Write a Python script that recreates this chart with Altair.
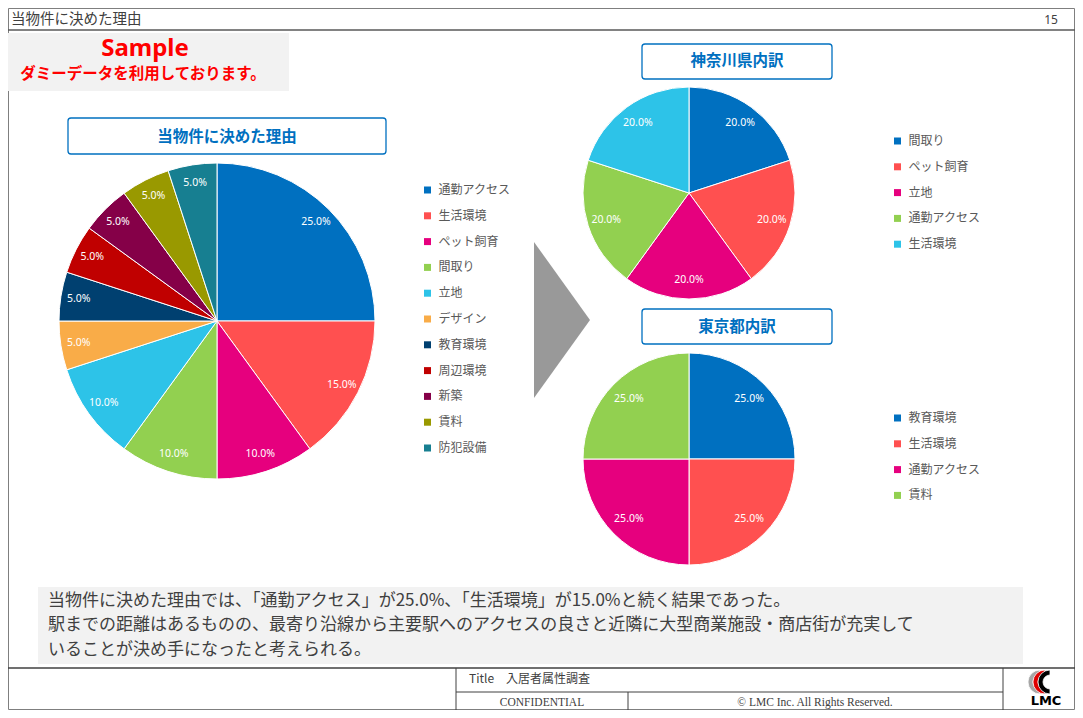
import altair as alt
import pandas as pd

# ---------------- data ----------------
main_cats = ["通勤アクセス", "生活環境", "ペット飼育", "間取り", "立地", "デザイン",
             "教育環境", "周辺環境", "新築", "賃料", "防犯設備"]
main_vals = [25, 15, 10, 10, 10, 5, 5, 5, 5, 5, 5]

kana_cats = ["間取り", "ペット飼育", "立地", "通勤アクセス", "生活環境"]
kana_vals = [20, 20, 20, 20, 20]

tokyo_cats = ["教育環境", "生活環境", "通勤アクセス", "賃料"]
tokyo_vals = [25, 25, 25, 25]

palette = ["#0070C0", "#FF5050", "#E6007E", "#92D050", "#2DC3E8", "#F9AC48",
           "#004070", "#C00000", "#850048", "#999900", "#177F91"]

header_title = "当物件に決めた理由"
page_no = "15"
sample_title = "Sample"
sample_note = "ダミーデータを利用しております。"
pie_titles = ["当物件に決めた理由", "神奈川県内訳", "東京都内訳"]
summary_lines = [
    "当物件に決めた理由では、「通勤アクセス」が25.0%、「生活環境」が15.0%と続く結果であった。",
    "駅までの距離はあるものの、最寄り沿線から主要駅へのアクセスの良さと近隣に大型商業施設・商店街が充実して",
    "いることが決め手になったと考えられる。",
]
footer_title = "Title　入居者属性調査"
footer_conf = "CONFIDENTIAL"
footer_copy = "© LMC Inc.  All Rights Reserved."

# ---------------- layout helpers ----------------
OFF = 8
W, H = 1067, 702
JP = "Noto Sans CJK JP"


def X(p):
    return p - OFF


def Y(p):
    return p - OFF


one = alt.Data(values=[{"k": 1}])


def box(x1, y1, x2, y2, fill="#FFFFFF", stroke=None, sw=1, cr=0, fo=1):
    kw = dict(fill=fill, cornerRadius=cr, fillOpacity=fo)
    if stroke:
        kw.update(stroke=stroke, strokeWidth=sw)
    else:
        kw.update(strokeWidth=0)
    return alt.Chart(one).mark_rect(**kw).encode(
        x=alt.value(X(x1)), x2=alt.value(X(x2)),
        y=alt.value(Y(y1)), y2=alt.value(Y(y2)))


def rule(x1, y1, x2, y2, color="#595959", sw=1):
    return alt.Chart(one).mark_rule(color=color, strokeWidth=sw).encode(
        x=alt.value(X(x1)), x2=alt.value(X(x2)),
        y=alt.value(Y(y1)), y2=alt.value(Y(y2)))


def label(t, x, y, size, color="#404040", weight="normal", font=JP, align="left",
          baseline="middle", **kw):
    return alt.Chart(one).mark_text(
        text=t, font=font, fontSize=size, fontWeight=weight, color=color,
        align=align, baseline=baseline, **kw).encode(x=alt.value(X(x)), y=alt.value(Y(y)))


def pie(cats, vals, cx, cy, r, lr, lx, ly):
    df = pd.DataFrame({"cat": cats, "value": vals, "idx": list(range(len(cats)))})
    base = alt.Chart(df).transform_calculate(label="format(datum.value, '.1f') + '%'")
    arc = base.mark_arc(radius=r, stroke="white", strokeWidth=1).encode(
        theta=alt.Theta("value:Q", stack=True),
        color=alt.Color(
            "cat:N",
            scale=alt.Scale(domain=cats, range=palette[:len(cats)]),
            legend=alt.Legend(
                title=None, orient="none", legendX=X(lx), legendY=Y(ly),
                symbolType="square", symbolSize=49, symbolStrokeWidth=0,
                symbolOpacity=1, labelFont=JP, labelFontSize=12,
                labelColor="#595959", labelOffset=5, rowPadding=13.8, padding=0)),
        order=alt.Order("idx:Q"),
        x=alt.value(X(cx)), y=alt.value(Y(cy)))
    txt = base.mark_text(radius=lr, color="white", fontSize=10.5, font="Noto Sans").encode(
        theta=alt.Theta("value:Q", stack=True),
        order=alt.Order("idx:Q"),
        text="label:N",
        x=alt.value(X(cx)), y=alt.value(Y(cy)))
    return [arc, txt]


layers = []

# outer frame and header
layers.append(alt.Chart(one).mark_rect(fillOpacity=0, stroke="#7F7F7F", strokeWidth=1).encode(
    x=alt.value(0.5), x2=alt.value(W - 0.5), y=alt.value(0.5), y2=alt.value(H - 0.5)))
layers.append(alt.Chart(one).mark_rule(color="#595959", strokeWidth=1.5).encode(
    x=alt.value(0), x2=alt.value(W), y=alt.value(Y(30)), y2=alt.value(Y(30))))
layers.append(label(header_title, 11, 20, 14.5))
layers.append(label(page_no, 1051, 20, 12, font="Noto Sans", align="center"))

# sample box
layers.append(box(8, 33, 289, 91, fill="#F2F2F2"))
layers.append(label(sample_title, 145, 49, 24, color="#FF0000", weight="bold", font="Noto Sans", align="center"))
layers.append(label(sample_note, 143, 74, 15.5, color="#FF0000", weight="bold", align="center"))

# pie titles
layers.append(box(68, 118, 386, 154, stroke="#0070C0", sw=1.3, cr=3))
layers.append(label(pie_titles[0], 227, 137, 15.5, color="#0070C0", weight="bold", align="center"))
layers.append(box(642, 44, 832, 79, stroke="#0070C0", sw=1.3, cr=3))
layers.append(label(pie_titles[1], 737, 61, 15.5, color="#0070C0", weight="bold", align="center"))
layers.append(box(642, 309, 832, 344, stroke="#0070C0", sw=1.3, cr=3))
layers.append(label(pie_titles[2], 737, 327, 15.5, color="#0070C0", weight="bold", align="center"))

# pies
layers += pie(main_cats, main_vals, 217, 321, 158, 140, 421.5, 184)
layers += pie(kana_cats, kana_vals, 689, 193, 106, 87, 891.5, 135)
layers += pie(tokyo_cats, tokyo_vals, 689, 459, 106, 85, 891.5, 412)

# arrow triangle
layers.append(alt.Chart(one).mark_point(
    shape="M -0.359 -1 L 0.359 0 L -0.359 1 Z", size=24336, filled=True,
    fill="#999999", opacity=1, strokeWidth=0).encode(x=alt.value(X(562)), y=alt.value(Y(320))))

# summary box
layers.append(box(38, 587, 1023, 664, fill="#F2F2F2"))
layers.append(label(summary_lines, 48, 600.5, 17, lineHeight=24.6))

# footer
layers.append(alt.Chart(one).mark_rule(color="#404040", strokeWidth=1.3).encode(
    x=alt.value(0), x2=alt.value(W), y=alt.value(Y(668)), y2=alt.value(Y(668))))
layers.append(rule(456, 668, 456, 712, color="#404040"))
layers.append(rule(1003, 668, 1003, 712, color="#404040"))
layers.append(rule(456, 692, 1003, 692, color="#404040"))
layers.append(rule(628, 692, 628, 712, color="#404040"))
layers.append(label(footer_title, 469, 679, 12))
layers.append(label(footer_conf, 542, 703, 11.5, font="Liberation Serif", align="center"))
layers.append(label(footer_copy, 815, 703, 11.5, font="Liberation Serif", align="center"))

# logo
for cxl, col in [(1040, "#A6A6A6"), (1045, "#E00000"), (1050, "#000000")]:
    layers.append(alt.Chart(one).mark_arc(
        radius=12, radius2=7, theta=3.14159, theta2=6.28318, color=col,
        stroke="white", strokeWidth=0.8).encode(x=alt.value(X(cxl)), y=alt.value(Y(682))))
layers.append(label("LMC", 1046, 701, 13, color="#000000", weight="bold", font="DejaVu Sans", align="center"))

chart = alt.layer(*layers).resolve_scale(
    theta="independent", color="independent"
).properties(
    width=W, height=H, padding=0, autosize=alt.AutoSizeParams(type="none")
).configure_view(strokeWidth=0)

chart.save("out.html", embed_options={"renderer": "svg", "actions": False})
